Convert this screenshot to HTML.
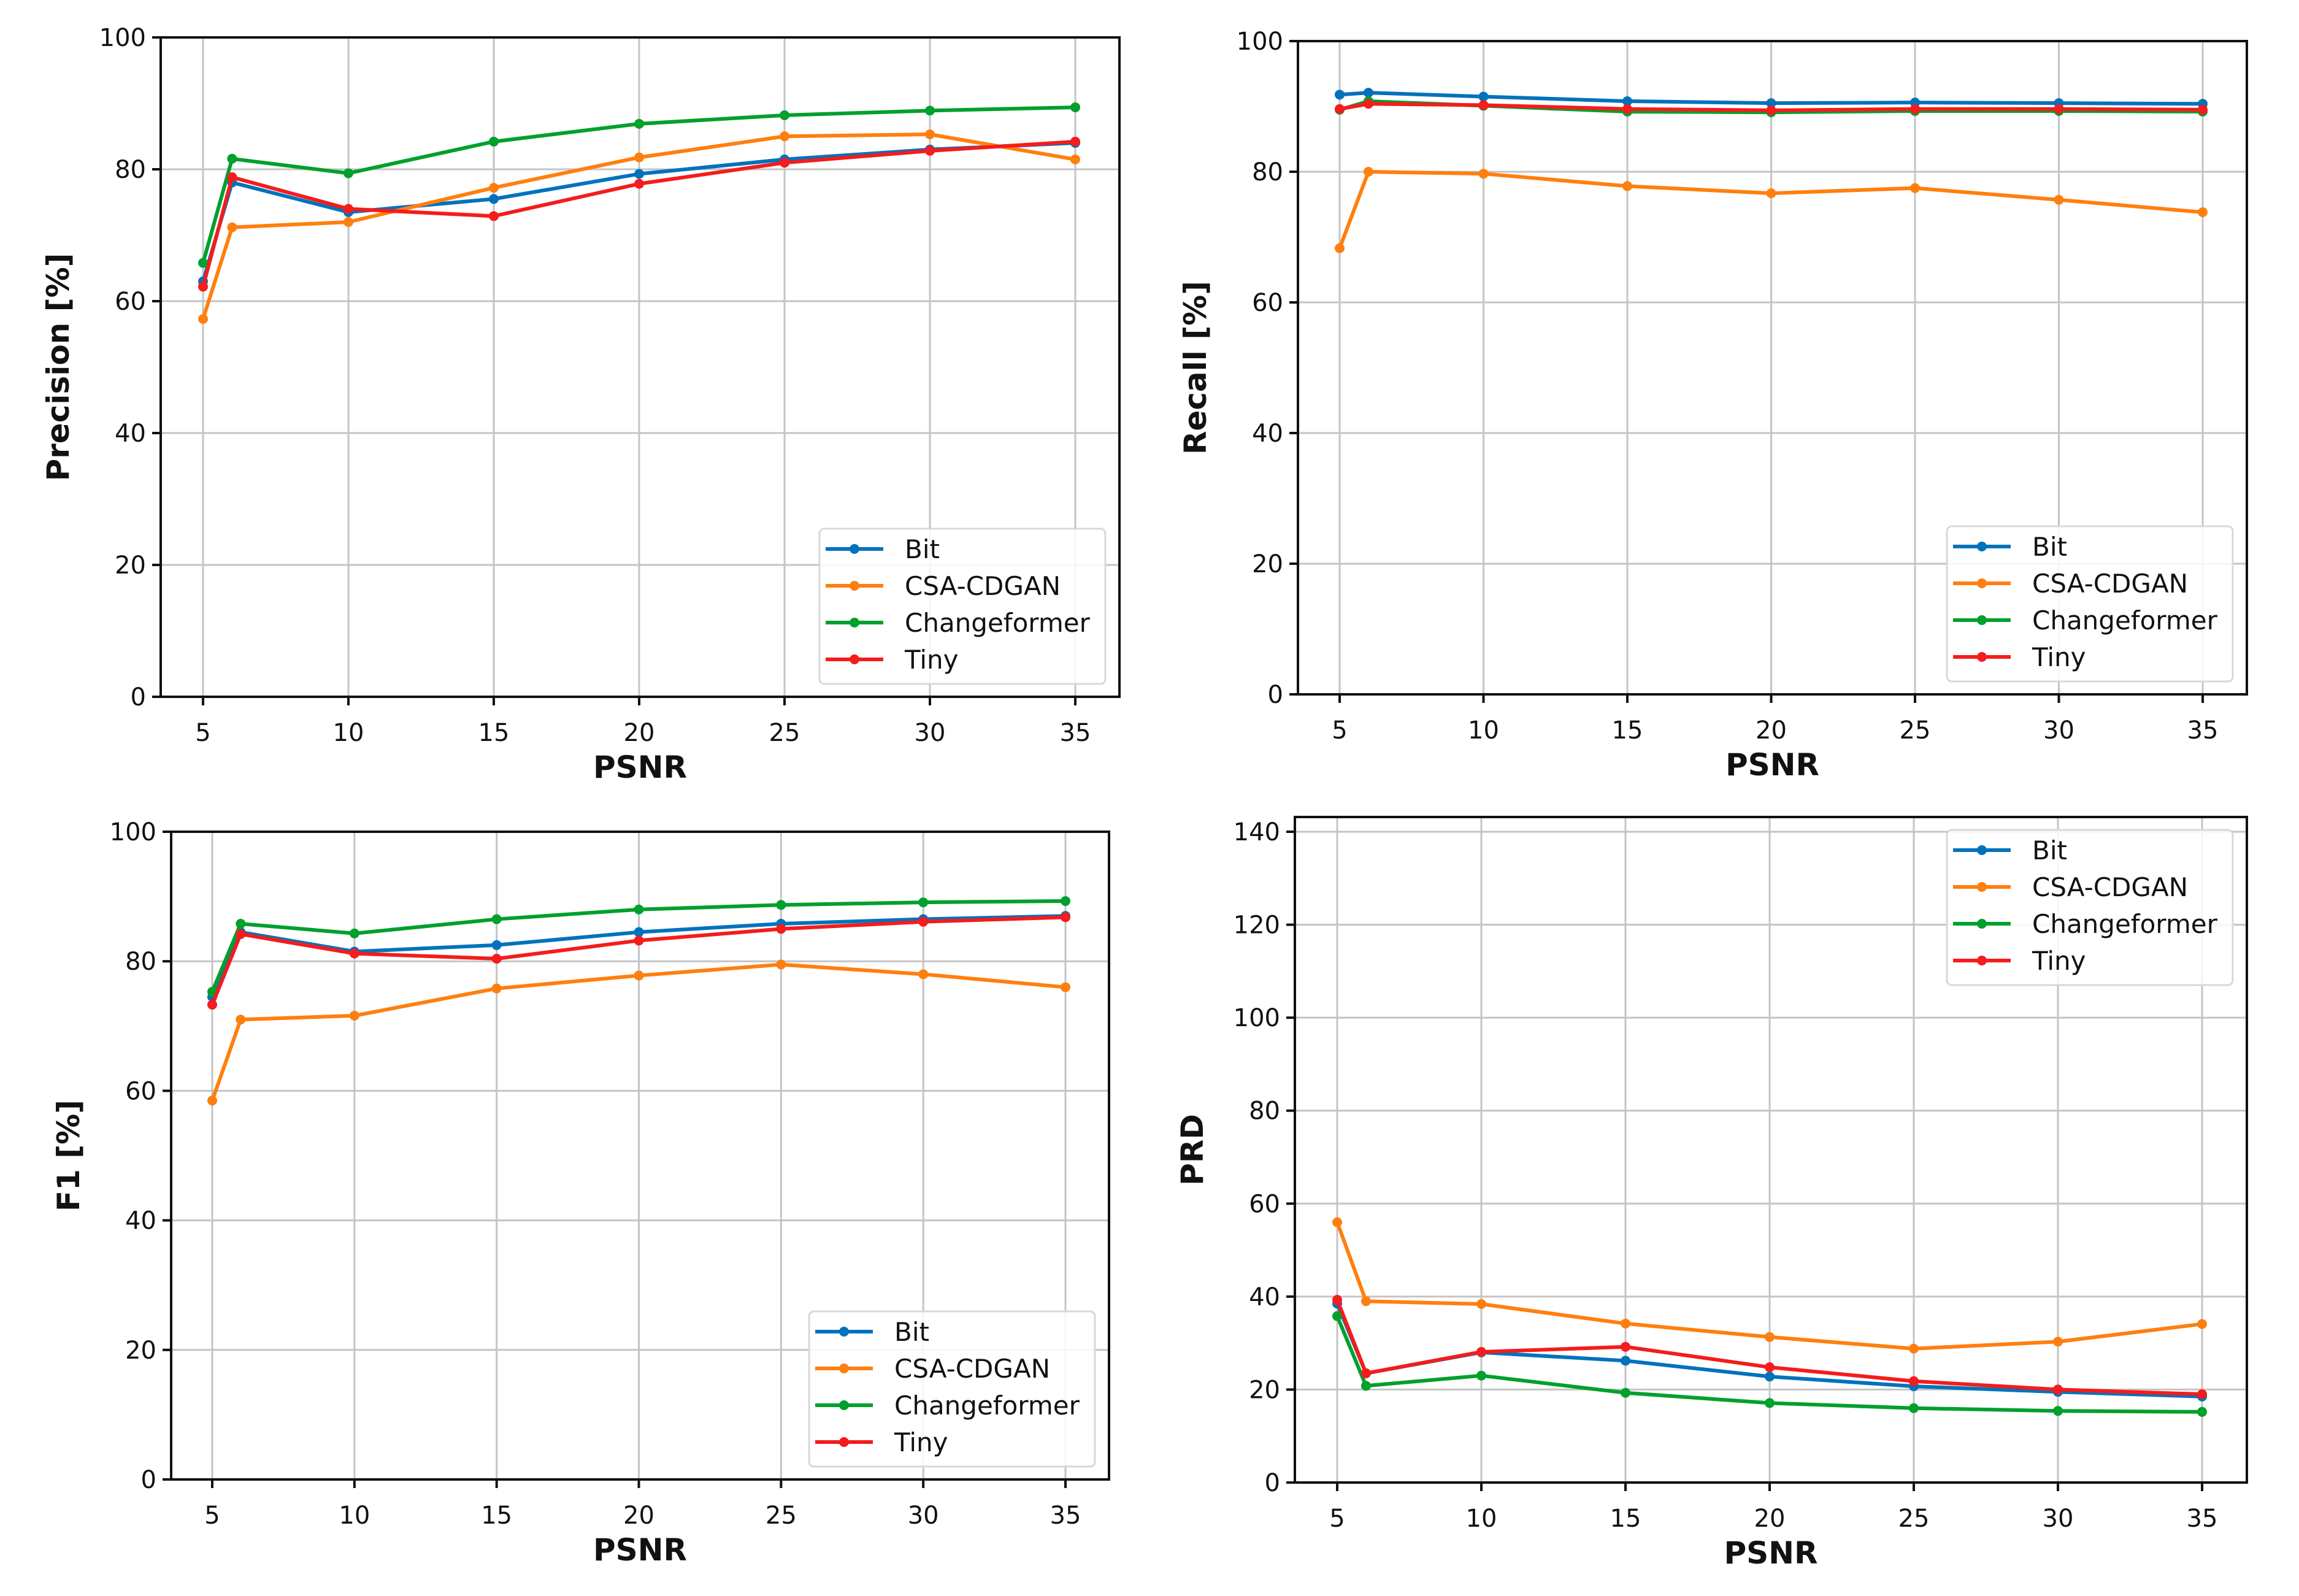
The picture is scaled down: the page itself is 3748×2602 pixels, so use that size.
<!DOCTYPE html>
<html><head><meta charset="utf-8"><style>
html,body{margin:0;padding:0;background:#fff;}
svg{display:block;}
text{font-family:"DejaVu Sans","Liberation Sans",sans-serif;}
</style></head><body>
<svg id="fig" width="3748" height="2602" xmlns="http://www.w3.org/2000/svg"></svg>
<script>
const psnr = [5, 6, 10, 15, 20, 25, 30, 35];
const xTicks = [5, 10, 15, 20, 25, 30, 35];
const seriesNames = ["Bit", "CSA-CDGAN", "Changeformer", "Tiny"];
const precisionBit = [63, 78, 73.5, 75.5, 79.3, 81.5, 83, 84];
const precisionCsa = [57.3, 71.2, 72, 77.2, 81.8, 85, 85.3, 81.5];
const precisionChange = [65.8, 81.6, 79.4, 84.2, 86.9, 88.2, 88.9, 89.4];
const precisionTiny = [62.2, 78.8, 74, 72.9, 77.8, 81, 82.8, 84.2];
const recallBit = [91.8, 92.1, 91.5, 90.8, 90.5, 90.6, 90.5, 90.4];
const recallCsa = [68.3, 80, 79.7, 77.8, 76.7, 77.5, 75.7, 73.8];
const recallChange = [89.5, 90.8, 90.1, 89.2, 89.1, 89.3, 89.3, 89.2];
const recallTiny = [89.6, 90.4, 90.2, 89.6, 89.4, 89.6, 89.6, 89.5];
const f1Bit = [74.5, 84.5, 81.5, 82.5, 84.5, 85.8, 86.5, 87];
const f1Csa = [58.5, 71, 71.6, 75.8, 77.8, 79.5, 78, 76];
const f1Change = [75.3, 85.8, 84.3, 86.5, 88, 88.7, 89.1, 89.3];
const f1Tiny = [73.3, 84.2, 81.2, 80.4, 83.2, 85, 86.1, 86.8];
const prdBit = [38.5, 23.5, 28, 26.2, 22.8, 20.7, 19.5, 18.5];
const prdCsa = [56, 39, 38.4, 34.2, 31.3, 28.8, 30.3, 34.1];
const prdChange = [35.8, 20.8, 23, 19.3, 17.1, 16, 15.4, 15.2];
const prdTiny = [39.3, 23.5, 28.1, 29.2, 24.8, 21.8, 20, 19];
const yTicks100 = [0, 20, 40, 60, 80, 100];
const yTicks140 = [0, 20, 40, 60, 80, 100, 120, 140];

const colors = ["#0072bd", "#ff7f0e", "#00a02c", "#f41c1c"];
const NS = "http://www.w3.org/2000/svg";
const svg = document.getElementById("fig");
function el(tag, attrs, parent) {
  const e = document.createElementNS(NS, tag);
  for (const k in attrs) e.setAttribute(k, attrs[k]);
  (parent || svg).appendChild(e);
  return e;
}

const panels = [
  {id:"precision", L:262, R:1825, T:61, B:1136, x5:331, x35:1753, ymax:100, yTopPx:61, yt:yTicks100, ylabel:"Precision [%]",
   data:[precisionBit, precisionCsa, precisionChange, precisionTiny], legPos:"br"},
  {id:"recall", L:2116, R:3663, T:67, B:1132, x5:2184, x35:3591, ymax:100, yTopPx:67, yt:yTicks100, ylabel:"Recall [%]",
   data:[recallBit, recallCsa, recallChange, recallTiny], legPos:"br"},
  {id:"f1", L:279, R:1808, T:1356, B:2412, x5:346, x35:1737, ymax:100, yTopPx:1356, yt:yTicks100, ylabel:"F1 [%]",
   data:[f1Bit, f1Csa, f1Change, f1Tiny], legPos:"br"},
  {id:"prd", L:2111, R:3663, T:1332, B:2417, x5:2180, x35:3590, ymax:140, yTopPx:1356, yt:yTicks140, ylabel:"PRD",
   data:[prdBit, prdCsa, prdChange, prdTiny], legPos:"tr"}
];

const LW = 466, LH = 253;

panels.forEach(p => {
  const g = el("g", {});
  
  
  const xs = v => p.x5 + (v - 5) * (p.x35 - p.x5) / 30;
  const ys = v => p.B - v * (p.B - p.yTopPx) / p.ymax;
  xTicks.forEach(t => {
    const l = el("line", {x1:xs(t), x2:xs(t), y1:p.T, y2:p.B, stroke:"#c4c4c4", "stroke-width":3}, g);
    
    
  });
  p.yt.forEach(t => {
    const l = el("line", {x1:p.L, x2:p.R, y1:ys(t), y2:ys(t), stroke:"#c4c4c4", "stroke-width":3}, g);
    
    
  });
  p.data.forEach((arr, si) => {
    const pts = arr.map((v, i) => xs(psnr[i]) + "," + ys(v)).join(" ");
    const pl = el("polyline", {points:pts, fill:"none", stroke:colors[si], "stroke-width":6, "stroke-linejoin":"round"}, g);
    
    
    arr.forEach((v, i) => {
      const c = el("circle", {cx:xs(psnr[i]), cy:ys(v), r:8, fill:colors[si]}, g);
      
      
    });
  });
  const fr = el("rect", {x:p.L, y:p.T, width:p.R - p.L, height:p.B - p.T, fill:"none", stroke:"#111", "stroke-width":4}, g);
  
  
  xTicks.forEach(t => {
    el("line", {x1:xs(t), x2:xs(t), y1:p.B, y2:p.B + 14, stroke:"#111", "stroke-width":4}, g);
    const tx = el("text", {x:xs(t), y:p.B + 72, "font-size":40, "text-anchor":"middle", fill:"#111"}, g);
    tx.textContent = t;
    
    
  });
  p.yt.forEach(t => {
    el("line", {x1:p.L - 14, x2:p.L, y1:ys(t), y2:ys(t), stroke:"#111", "stroke-width":4}, g);
    const tx = el("text", {x:p.L - 24, y:ys(t) + 14, "font-size":40, "text-anchor":"end", fill:"#111"}, g);
    tx.textContent = t;
    
    
  });
  const xl = el("text", {x:(p.L + p.R) / 2, y:p.B + 132, "font-size":50, "font-weight":"bold", "text-anchor":"middle", fill:"#111"}, g);
  xl.textContent = "PSNR";
  
  
  const cy = (p.T + p.B) / 2;
  const yl = el("text", {x:0, y:0, "font-size":50, "font-weight":"bold", "text-anchor":"middle", fill:"#111",
    transform:"translate(" + (p.L - 150) + "," + cy + ") rotate(-90)"}, g);
  yl.textContent = p.ylabel;
  
  
  const lx = p.R - 23 - LW;
  const ly = p.legPos === "br" ? p.B - 21 - LH : p.T + 21;
  const lg = el("g", {}, g);
  
  
  el("rect", {x:lx, y:ly, width:LW, height:LH, rx:8, fill:"#fff", "fill-opacity":0.85, stroke:"#d8d8d8", "stroke-width":3}, lg);
  seriesNames.forEach((n, si) => {
    const ey = ly + 33 + si * 60;
    const e = el("g", {}, lg);
    
    
    el("line", {x1:lx + 10, x2:lx + 104, y1:ey, y2:ey, stroke:colors[si], "stroke-width":6}, e);
    el("circle", {cx:lx + 57, cy:ey, r:8, fill:colors[si]}, e);
    const t = el("text", {x:lx + 139, y:ey + 15, "font-size":42, fill:"#111"}, e);
    t.textContent = n;
  });
});
</script>
</body></html>
